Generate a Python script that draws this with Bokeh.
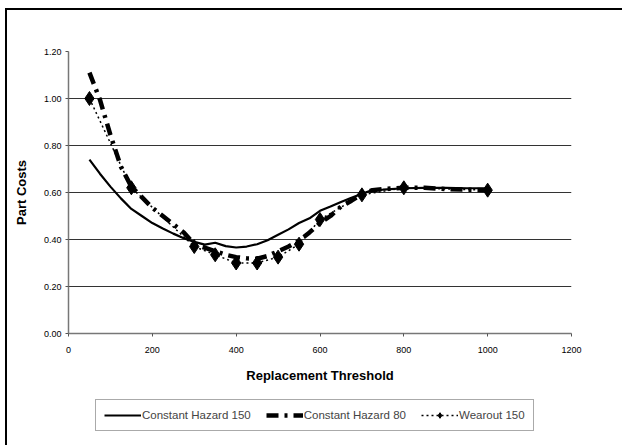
from bokeh.plotting import figure
from bokeh.layouts import column
from bokeh.models import Range1d, FixedTicker, NumeralTickFormatter, Legend, LegendItem
from bokeh.embed import file_html
from bokeh.resources import INLINE

FONT = "Liberation Sans Narrow, Arial Narrow, Liberation Sans, Arial, sans-serif"

ch150_x = [50, 75, 100, 125, 150, 175, 200, 225, 250, 275, 300, 325, 350, 375, 400, 425, 450, 475,
           500, 525, 550, 575, 600, 625, 650, 675, 700, 725, 750, 800, 850, 900, 950, 1000]
ch150_y = [0.74, 0.68, 0.625, 0.575, 0.53, 0.50, 0.47, 0.447, 0.425, 0.405, 0.39, 0.378, 0.386, 0.372,
           0.366, 0.37, 0.38, 0.397, 0.42, 0.443, 0.47, 0.49, 0.522, 0.54, 0.56, 0.578, 0.594, 0.61,
           0.612, 0.618, 0.62, 0.62, 0.618, 0.618]

ch80_x = ch150_x
ch80_y = [1.11, 0.995, 0.845, 0.71, 0.625, 0.58, 0.535, 0.50, 0.465, 0.43, 0.38, 0.365, 0.35, 0.335,
          0.325, 0.32, 0.318, 0.33, 0.35, 0.37, 0.395, 0.43, 0.47, 0.50, 0.54, 0.565, 0.594, 0.61,
          0.615, 0.62, 0.62, 0.615, 0.612, 0.61]

wear_x = [50, 150, 300, 350, 400, 450, 500, 550, 600, 700, 800, 1000]
wear_y = [1.00, 0.62, 0.37, 0.335, 0.30, 0.30, 0.325, 0.38, 0.485, 0.59, 0.62, 0.61]

x_ticks = [0, 200, 400, 600, 800, 1000, 1200]
y_ticks = [0.0, 0.2, 0.4, 0.6, 0.8, 1.0, 1.2]

series_names = ["Constant Hazard 150", "Constant Hazard 80", "Wearout 150"]

CH150 = dict(line_color="black", line_width=2.2)
CH80 = dict(line_color="black", line_width=4.5, line_dash="12 6 3 6")
WEAR = dict(line_color="black", line_width=1.5, line_dash="2 3")
WEAR_M = dict(marker="diamond", size=14, fill_color="black", line_color="black")

p = figure(width=615, height=380, output_backend="svg", toolbar_location=None,
           x_range=Range1d(0, 1200), y_range=Range1d(0, 1.2),
           min_border_left=61, min_border_right=51, min_border_top=41, min_border_bottom=57)
p.outline_line_color = None
p.background_fill_color = "white"
p.border_fill_color = "white"

p.xgrid.visible = False
p.ygrid.ticker = FixedTicker(ticks=y_ticks)
p.ygrid.grid_line_color = "#333333"
p.ygrid.grid_line_width = 1

for ax in (p.xaxis[0], p.yaxis[0]):
    ax.axis_line_color = "#777777"
    ax.axis_line_width = 1.5
    ax.major_tick_line_color = "#555555"
    ax.minor_tick_line_color = None
    ax.major_tick_in = 0
    ax.major_tick_out = 3
    ax.major_label_text_font = FONT
    ax.major_label_text_font_size = "9px"
    ax.major_label_text_color = "black"
    ax.axis_label_text_font = FONT
    ax.axis_label_text_font_style = "bold"
    ax.axis_label_text_font_size = "13px"
    ax.axis_label_text_color = "black"

p.xaxis.ticker = FixedTicker(ticks=x_ticks)
p.yaxis.ticker = FixedTicker(ticks=y_ticks)
p.yaxis.formatter = NumeralTickFormatter(format="0.00")
p.xaxis.axis_label = "Replacement Threshold"
p.yaxis.axis_label = "Part Costs"
p.xaxis.major_label_standoff = 10
p.xaxis.axis_label_standoff = 12
p.yaxis.major_label_standoff = 4
p.yaxis.axis_label_standoff = 12

p.line(ch150_x, ch150_y, **CH150)
p.line(ch80_x, ch80_y, **CH80)
p.line(wear_x, wear_y, **WEAR)
p.scatter(wear_x, wear_y, **WEAR_M)

# legend strip below the chart (its renderers sit outside the visible range; only their legend glyphs show)
p2 = figure(width=615, height=55, output_backend="svg", toolbar_location=None,
            x_range=Range1d(0, 1), y_range=Range1d(0, 1),
            x_axis_type=None, y_axis_type=None,
            min_border_left=61, min_border_right=51, min_border_top=0, min_border_bottom=0)
p2.outline_line_color = None
p2.border_fill_color = "white"
p2.xgrid.visible = False
p2.ygrid.visible = False
hx = [-10, -9]
hy = [-10, -10]
l1 = p2.line(hx, hy, **CH150)
l2 = p2.line(hx, hy, **CH80)
l3 = p2.line(hx, hy, **WEAR)
l4 = p2.scatter(hx, hy, **{**WEAR_M, "size": 9})

legend = Legend(items=[LegendItem(label=series_names[0], renderers=[l1]),
                       LegendItem(label=series_names[1], renderers=[l2]),
                       LegendItem(label=series_names[2], renderers=[l3, l4])],
                orientation="horizontal", location=(27, 14),
                border_line_color="#555555", border_line_width=1.5,
                label_text_font=FONT, label_text_font_size="11.5px",
                glyph_width=37, glyph_height=14, label_standoff=1, spacing=15,
                padding=8, margin=0, background_fill_alpha=1)
p2.add_layout(legend)

root = column(p, p2, spacing=0, margin=(8, 0, 0, 5),
              styles={"border-left": "2px solid black", "border-top": "2px solid black",
                      "border-right": "none", "border-bottom": "none"})

open("out.html", "w").write(file_html(root, INLINE))
